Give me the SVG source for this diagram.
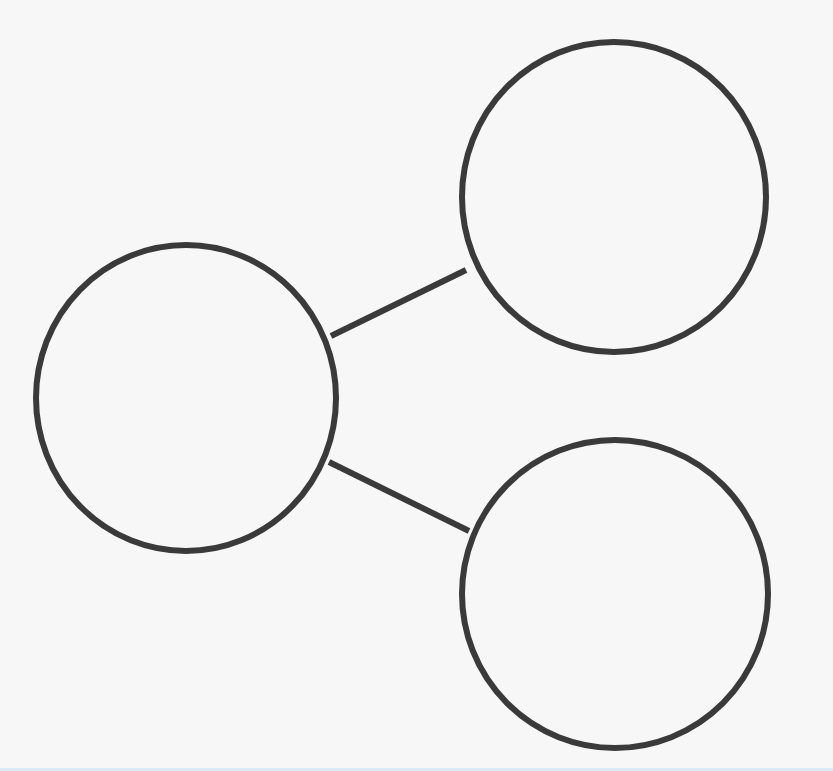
<svg xmlns="http://www.w3.org/2000/svg" width="833" height="771" viewBox="0 0 833 771">
<style>
.n{fill:none;stroke:#3a3a3a;stroke-width:6}
.e{stroke:#3a3a3a;stroke-width:6;fill:none}
</style>
<rect x="0" y="0" width="833" height="771" fill="#f7f7f7"/>
<rect x="0" y="768" width="833" height="3" fill="#dce9f6"/>
<g id="connectors">
<line class="e" x1="331" y1="336" x2="466" y2="270"/>
<line class="e" x1="329" y1="462" x2="469" y2="531"/>
</g>
<g id="node-left"><ellipse class="n" cx="186" cy="398" rx="150" ry="153"/></g>
<g id="node-top"><ellipse class="n" cx="614" cy="197" rx="152" ry="155"/></g>
<g id="node-bottom"><ellipse class="n" cx="615" cy="594" rx="153" ry="154"/></g>
</svg>
